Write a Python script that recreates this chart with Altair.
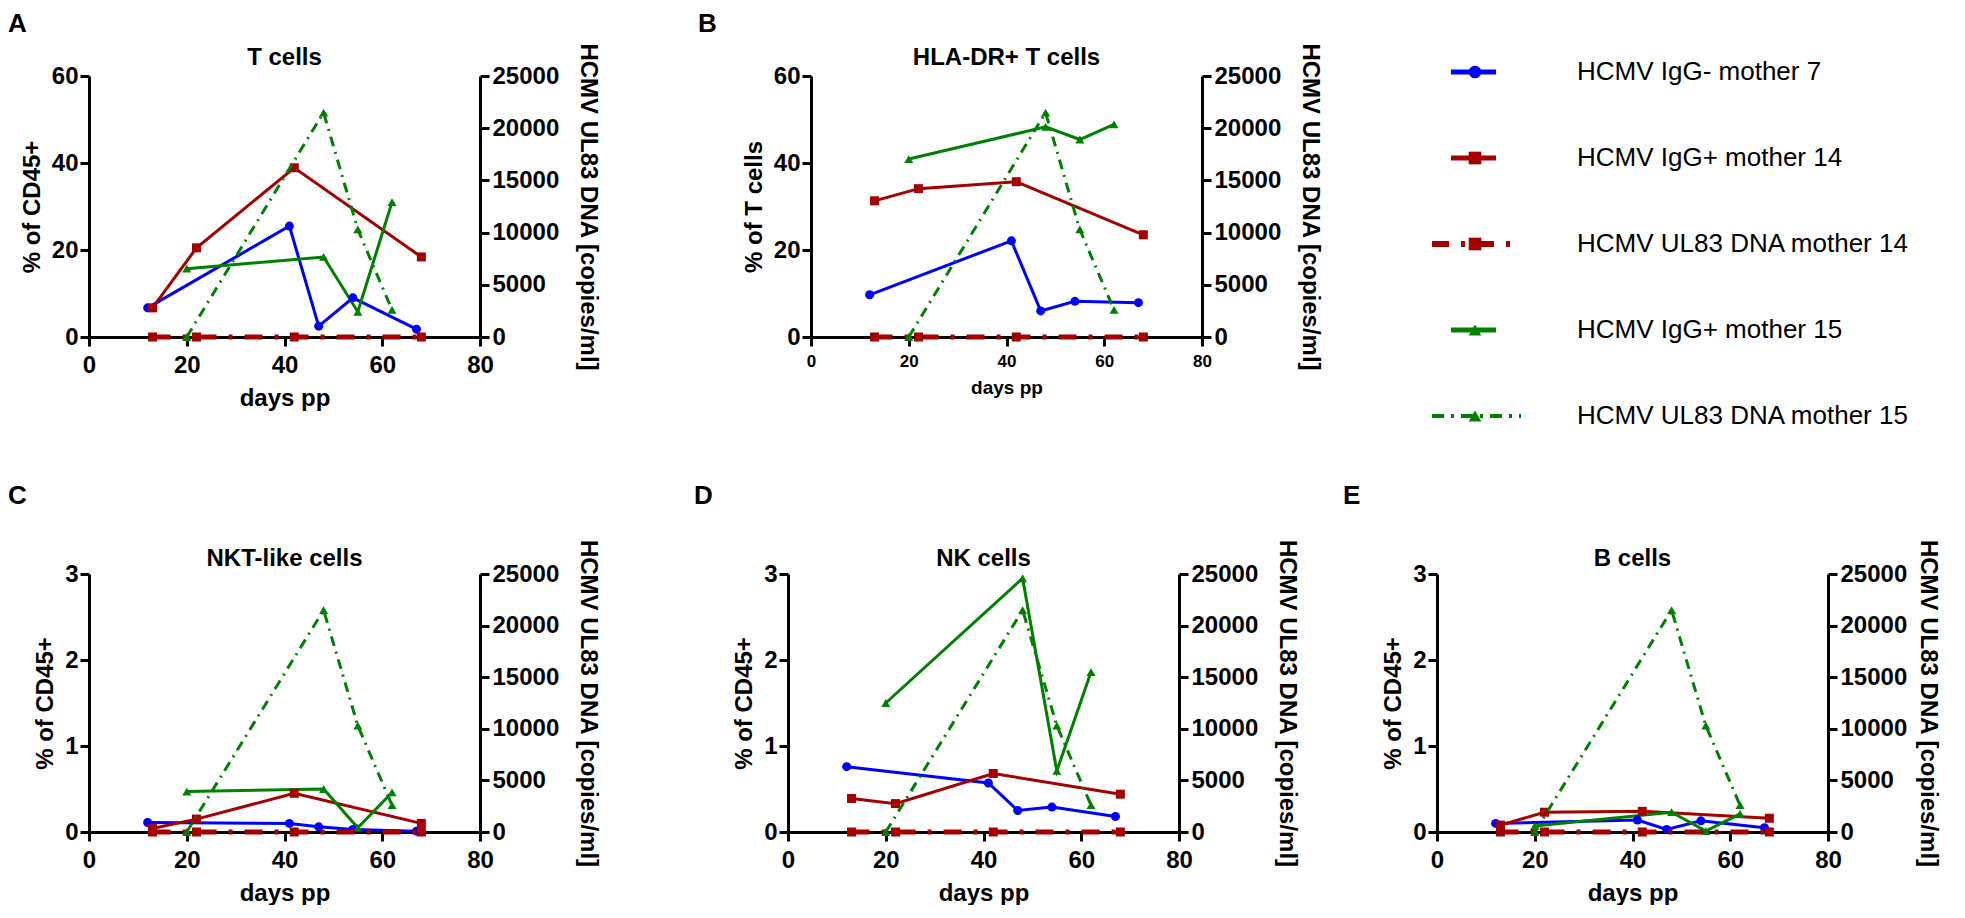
import altair as alt
import pandas as pd

FONT = "Liberation Sans"

SERIES = [
    "HCMV IgG- mother 7",
    "HCMV IgG+ mother 14",
    "HCMV UL83 DNA mother 14",
    "HCMV IgG+ mother 15",
    "HCMV UL83 DNA mother 15",
]
COLORS = ["#0000ff", "#a50000", "#a50000", "#008000", "#008000"]
SHAPES = ["circle", "square", "square", "triangle-up", "triangle-up"]

DAYS_M7 = [12, 41, 47, 54, 67]
DAYS_M14 = [13, 22, 42, 68]
DAYS_M15 = [20, 48, 55, 62]

DNA_M14 = [0, 0, 0, 0]
DNA_M15 = [0, 21500, 10300, 2600]

T_M7 = [6.7, 25.5, 2.5, 9.0, 1.8]
T_M14 = [6.7, 20.5, 38.9, 18.4]
T_M15 = [15.7, 18.4, 5.8, 31.0]

HLA_M7 = [9.7, 22.1, 6.0, 8.2, 7.9]
HLA_M14 = [31.3, 34.1, 35.7, 23.5]
HLA_M15 = [40.9, 48.3, 45.4, 48.9]

NKT_M7 = [0.11, 0.10, 0.06, 0.03, 0.01]
NKT_M14 = [0.04, 0.15, 0.45, 0.10]
NKT_M15 = [0.47, 0.50, 0.05, 0.46]

NK_M7 = [0.76, 0.57, 0.25, 0.29, 0.18]
NK_M14 = [0.39, 0.33, 0.68, 0.44]
NK_M15 = [1.50, 2.95, 0.71, 1.86]

B_M7 = [0.10, 0.14, 0.03, 0.13, 0.05]
B_M14 = [0.08, 0.23, 0.24, 0.16]
B_M15 = [0.07, 0.23, 0.01, 0.21]

TICKS_60 = [0, 20, 40, 60]
TICKS_3 = [0, 1, 2, 3]
RIGHT_TICKS = [0, 5000, 10000, 15000, 20000, 25000]
X_TICKS = [0, 20, 40, 60, 80]

color_enc = alt.Color("series:N", scale=alt.Scale(domain=SERIES, range=COLORS), legend=None)
shape_enc = alt.Shape("series:N", scale=alt.Scale(domain=SERIES, range=SHAPES), legend=None)


def panel(title, letter, ytitle, ymax, yticks, m7, m14, m15, height,
          width=391, plot_w=391, right_offset=0, right_tpad=17,
          xlab=24, xtit=24, letter_dx=-81, letter_dy=-44, title_dy=-11):
    x_enc = alt.X(
        "day:Q",
        scale=alt.Scale(domain=[0, 80], range=[0, plot_w], nice=False, zero=False),
        axis=alt.Axis(values=X_TICKS, format="d", title="days pp",
                      labelFontSize=xlab, titleFontSize=xtit),
    )
    yl = alt.Y(
        "value:Q",
        scale=alt.Scale(domain=[0, ymax], nice=False),
        axis=alt.Axis(orient="left", values=yticks, format="d", title=ytitle,
                      labelPadding=2, titlePadding=7),
    )
    yr = alt.Y(
        "value:Q",
        scale=alt.Scale(domain=[0, 25000], nice=False),
        axis=alt.Axis(orient="right", values=RIGHT_TICKS, format="d",
                      title="HCMV UL83 DNA [copies/ml]", labelPadding=3,
                      titlePadding=right_tpad, offset=right_offset),
    )
    left_df = pd.concat([
        pd.DataFrame({"day": DAYS_M7, "value": m7, "series": SERIES[0]}),
        pd.DataFrame({"day": DAYS_M14, "value": m14, "series": SERIES[1]}),
        pd.DataFrame({"day": DAYS_M15, "value": m15, "series": SERIES[3]}),
    ], ignore_index=True)
    bl = alt.Chart(left_df)
    lines_l = bl.mark_line(strokeWidth=3).encode(x=x_enc, y=yl, color=color_enc)
    pts_l = bl.mark_point(filled=True, size=81, opacity=1).encode(
        x=x_enc, y=yl, color=color_enc, shape=shape_enc)

    r14 = alt.Chart(pd.DataFrame({"day": DAYS_M14, "value": DNA_M14, "series": SERIES[2]}))
    r15 = alt.Chart(pd.DataFrame({"day": DAYS_M15, "value": DNA_M15, "series": SERIES[4]}))
    line14 = r14.mark_line(strokeWidth=5, strokeDash=[18, 12, 4, 12]).encode(
        x=x_enc, y=yr, color=color_enc)
    pts14 = r14.mark_point(filled=True, size=81, opacity=1).encode(
        x=x_enc, y=yr, color=color_enc, shape=shape_enc)
    line15 = r15.mark_line(strokeWidth=3, strokeDash=[10, 6, 2, 6]).encode(
        x=x_enc, y=yr, color=color_enc)
    pts15 = r15.mark_point(filled=True, size=81, opacity=1).encode(
        x=x_enc, y=yr, color=color_enc, shape=shape_enc)

    title_layer = alt.Chart(pd.DataFrame({"t": [title]})).mark_text(
        font=FONT, fontSize=24, fontWeight="bold", color="black",
        align="center", baseline="alphabetic",
    ).encode(text="t:N", x=alt.value(plot_w / 2), y=alt.value(title_dy))
    letter_layer = alt.Chart(pd.DataFrame({"t": [letter]})).mark_text(
        font=FONT, fontSize=26, fontWeight="bold", color="black",
        align="left", baseline="alphabetic",
    ).encode(text="t:N", x=alt.value(letter_dx), y=alt.value(letter_dy))

    return alt.layer(
        alt.layer(lines_l, pts_l),
        alt.layer(line14, pts14, line15, pts15),
        title_layer,
        letter_layer,
    ).resolve_scale(y="independent").properties(width=width, height=height)


A = panel("T cells", "A", "% of CD45+", 60, TICKS_60, T_M7, T_M14, T_M15, 261)
B = panel("HLA-DR+ T cells", "B", "% of T cells", 60, TICKS_60, HLA_M7, HLA_M14, HLA_M15, 261,
          xlab=17, xtit=19, letter_dx=-113)
C = panel("NKT-like cells", "C", "% of CD45+", 3, TICKS_3, NKT_M7, NKT_M14, NKT_M15, 258,
          width=441, right_offset=-50, letter_dy=-70, title_dy=-8)
D = panel("NK cells", "D", "% of CD45+", 3, TICKS_3, NK_M7, NK_M14, NK_M15, 258,
          letter_dx=-94, letter_dy=-70, title_dy=-8)
E = panel("B cells", "E", "% of CD45+", 3, TICKS_3, B_M7, B_M14, B_M15, 258,
          right_tpad=9, letter_dx=-94, letter_dy=-70, title_dy=-8)

# custom legend
leg = alt.Chart(pd.DataFrame({"series": SERIES, "row": list(range(len(SERIES)))}))
ly = alt.Y("row:Q", scale=alt.Scale(domain=[0, 4], range=[-4, 340]), axis=None)
solid = leg.transform_filter(
    alt.FieldOneOfPredicate(field="series", oneOf=[SERIES[0], SERIES[1], SERIES[3]])
).mark_rule(strokeWidth=5).encode(x=alt.value(-82), x2=alt.value(-37), y=ly, color=color_enc)
d14 = leg.transform_filter(alt.datum.series == SERIES[2]).mark_rule(
    strokeWidth=6, strokeDash=[17, 12, 4, 12]
).encode(x=alt.value(-101), x2=alt.value(-12), y=ly, color=color_enc)
d15 = leg.transform_filter(alt.datum.series == SERIES[4]).mark_rule(
    strokeWidth=4, strokeDash=[12, 7, 3, 7]
).encode(x=alt.value(-101), x2=alt.value(-12), y=ly, color=color_enc)
lmarks = leg.mark_point(filled=True, size=160, opacity=1).encode(
    x=alt.value(-58), y=ly, color=color_enc, shape=shape_enc)
ltext = leg.mark_text(align="left", baseline="middle", font=FONT, fontSize=26,
                      color="black").encode(x=alt.value(44), y=ly, text="series:N")
L = alt.layer(solid, d14, d15, lmarks, ltext).properties(width=10, height=261)

top = alt.hconcat(A, B, L, spacing=331, bounds="flush")
bottom = alt.hconcat(C, D, E, spacing=258, bounds="flush")

chart = alt.vconcat(top, bottom, spacing=54).properties(
    padding={"left": 0, "top": 3, "right": 8, "bottom": 0}
).configure_view(
    strokeWidth=0
).configure_axis(
    domainColor="black", domainWidth=3, tickColor="black", tickWidth=3, tickSize=9,
    labelFont=FONT, labelFontWeight="bold", labelFontSize=24, labelColor="black",
    titleFont=FONT, titleFontWeight="bold", titleFontSize=24, titleColor="black",
    grid=False, labelFlush=False, labelOverlap=False,
).configure_axisX(labelPadding=7, titlePadding=9)

chart.save("out.html", embed_options={"renderer": "svg", "actions": False})
